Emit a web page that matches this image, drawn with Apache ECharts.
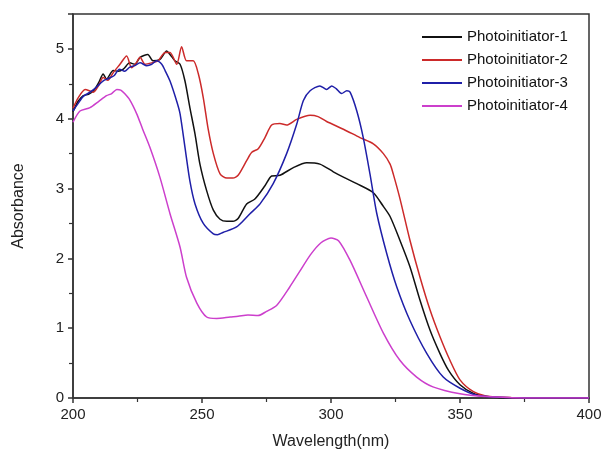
<!DOCTYPE html>
<html>
<head>
<meta charset="utf-8">
<script src="https://cdn.jsdelivr.net/npm/echarts@6/dist/echarts.min.js"></script>
<style>html,body{margin:0;padding:0;background:#fff}#c{width:601px;height:456px}</style>
</head>
<body>
<div id="c"></div>
<script>
const seriesNames = ["Photoinitiator-1", "Photoinitiator-2", "Photoinitiator-3", "Photoinitiator-4"];
const xTicks = [200, 250, 300, 350, 400];
const yTicks = [0, 1, 2, 3, 4, 5];

const wl1 = [200,202,204,206,208,210,211.7,213,215.6,217.5,219.5,222,224,226,229,231,233.7,236.3,237.6,239.5,241.5,243.4,245.3,247.3,249.2,251.8,254.4,257,259.6,262,264,267.3,270.5,274.4,277,280.2,285.4,290.6,295.7,300.9,305,310,316.4,320,322.9,326.7,330.6,334.5,338.4,342.2,345.5,350,355,360,365,370,400];
const abs1 = [4.10,4.25,4.33,4.35,4.40,4.52,4.64,4.57,4.69,4.68,4.71,4.80,4.78,4.88,4.92,4.83,4.85,4.97,4.92,4.83,4.78,4.54,4.16,3.78,3.35,2.97,2.69,2.56,2.53,2.53,2.57,2.78,2.85,3.04,3.18,3.19,3.30,3.37,3.35,3.24,3.16,3.07,2.94,2.76,2.60,2.26,1.88,1.40,0.97,0.64,0.40,0.19,0.07,0.02,0.005,0,0];

const wl2 = [200,202,204.7,207.9,210,211.7,213.5,215.6,218.2,220.8,222.7,224.5,226,227.9,230.5,233,235.7,237.6,240.2,242.1,244,246.6,248.6,250.5,252.4,254.4,257,259.6,262,264,267.3,269.3,271.8,274.4,277,280.2,282.8,286.7,291.9,295,298.3,304.8,311.2,316.4,320.3,322.9,324.2,326.7,330.6,334.5,338.4,342.2,346.1,350,355.2,360,370,380,400];
const abs2 = [4.15,4.30,4.42,4.38,4.48,4.59,4.55,4.66,4.78,4.90,4.73,4.80,4.88,4.78,4.80,4.83,4.95,4.95,4.78,5.03,4.83,4.83,4.64,4.30,3.85,3.50,3.21,3.15,3.15,3.19,3.40,3.52,3.57,3.73,3.91,3.93,3.91,3.99,4.05,4.03,3.96,3.85,3.73,3.64,3.50,3.35,3.20,2.86,2.26,1.73,1.26,0.88,0.54,0.26,0.09,0.03,0.005,0,0];

const wl3 = [200,202,204,206.6,209,211.6,214,216,218,220,222,224,226,228.6,230.5,232.4,234.4,235.7,237.6,240.2,241.5,243.4,245.3,247.3,250.5,254.4,256,258.1,263.4,268.6,272.5,277.6,282.8,286.7,289.3,291.9,295.7,298.3,300.3,302,304.1,306.1,307.4,310,312.5,315.1,317.7,321.6,325.5,330.6,337.1,343.5,350,356.5,365,375,400];
const abs3 = [4.11,4.22,4.32,4.38,4.45,4.54,4.58,4.62,4.71,4.68,4.74,4.76,4.80,4.76,4.78,4.83,4.78,4.69,4.54,4.25,4.07,3.59,3.11,2.78,2.50,2.35,2.34,2.37,2.45,2.64,2.78,3.07,3.50,3.92,4.26,4.40,4.47,4.42,4.47,4.43,4.36,4.40,4.38,4.11,3.73,3.21,2.65,2.07,1.59,1.11,0.64,0.30,0.14,0.04,0.01,0,0];

const wl4 = [200,202.7,206.6,210,213,215,217,218.5,220,222,224.7,227,229.8,233.7,237.6,241.5,244,248,251.8,255.7,260.9,264,267.8,271.7,275,279,284,288,292,296,300,303,307.4,313.8,320.3,326.7,333.2,339.5,350,360,370,380,400];
const abs4 = [3.95,4.11,4.16,4.25,4.33,4.36,4.42,4.41,4.36,4.27,4.07,3.85,3.59,3.16,2.64,2.16,1.73,1.36,1.16,1.14,1.16,1.17,1.19,1.18,1.24,1.33,1.59,1.82,2.05,2.22,2.29,2.25,1.97,1.45,0.93,0.54,0.30,0.16,0.06,0.02,0.005,0,0];

const colors = ["#111111", "#cc2a2a", "#1f1fa8", "#cc3fcc"];
const wls = [wl1, wl2, wl3, wl4];
const absv = [abs1, abs2, abs3, abs4];

const chart = echarts.init(document.getElementById('c'), null, {renderer: 'canvas'});
const font = "'Liberation Sans', Arial, sans-serif";
const axisCommon = {
  axisLine: {show: true, onZero: false, lineStyle: {color: '#333', width: 1.5}},
  axisTick: {show: true, inside: false, length: 5, lineStyle: {color: '#333', width: 1.5}},
  minorTick: {show: true, splitNumber: 2, length: 4, lineStyle: {color: '#333', width: 1.2}},
  splitLine: {show: false},
  axisLabel: {color: '#222', fontSize: 15, fontFamily: font},
  nameTextStyle: {color: '#222', fontSize: 16, fontFamily: font}
};
chart.setOption({
  animation: false,
  backgroundColor: '#fff',
  grid: {left: 73, right: 12, top: 14, bottom: 58, show: true, borderColor: '#333', borderWidth: 1.5,
         containLabel: false, outerBoundsMode: 'none'},
  legend: {
    orient: 'vertical', left: 417, top: 24, itemWidth: 40, itemHeight: 2, itemGap: 7, icon: 'rect',
    textStyle: {fontSize: 15, fontFamily: font, color: '#111', lineHeight: 16},
    data: seriesNames
  },
  xAxis: Object.assign({}, axisCommon, {
    type: 'value', min: xTicks[0], max: xTicks[xTicks.length - 1], interval: 50,
    name: 'Wavelength(nm)', nameLocation: 'middle', nameGap: 36,
    axisLabel: Object.assign({}, axisCommon.axisLabel, {margin: 9})
  }),
  yAxis: Object.assign({}, axisCommon, {
    type: 'value', min: 0, max: 5.5, interval: 1,
    name: 'Absorbance', nameLocation: 'middle', nameGap: 46,
    axisLabel: Object.assign({}, axisCommon.axisLabel, {
      margin: 9,
      formatter: v => (yTicks.indexOf(v) >= 0 ? String(v) : '')
    })
  }),
  series: seriesNames.map((n, i) => ({
    name: n, type: 'line', showSymbol: false, symbol: 'none', smooth: 0.25,
    lineStyle: {color: colors[i], width: 1.5}, itemStyle: {color: colors[i]},
    data: wls[i].map((x, j) => [x, absv[i][j]])
  }))
});
</script>
</body>
</html>
